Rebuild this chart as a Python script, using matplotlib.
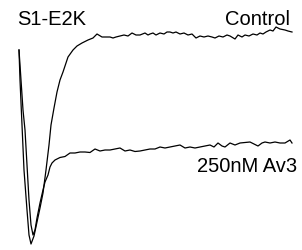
import matplotlib
matplotlib.use("Agg")
import matplotlib.pyplot as plt

# time (ms) and current (nA)
control_t = [0.0, 0.1, 0.3, 0.5, 0.8, 1.0, 1.2, 1.5, 1.8, 2.1, 2.4, 2.7, 3.0, 3.2, 3.5, 3.8, 4.1, 4.4, 4.9, 5.4,
             5.8, 6.3, 6.9, 7.4, 7.8, 8.3, 9.1, 9.4, 9.7, 10.1, 10.5, 10.9, 11.3, 11.7, 12.1, 12.6, 12.9, 13.1,
             13.4, 13.7, 14.1, 14.5, 14.8, 15.1, 15.4, 15.7, 16.1, 16.5, 16.9, 17.3, 17.7, 18.1, 18.5, 18.9,
             19.3, 19.6, 20.0, 20.4, 20.8, 21.1, 21.6, 21.9, 22.3, 22.6, 23.0, 23.4, 23.8, 24.1, 24.4, 24.7,
             25.1, 25.4, 25.7, 26.1, 26.6, 26.9, 27.3]
control_i = [0.0, -0.30, -0.75, -1.20, -1.60, -1.85, -1.94, -1.86, -1.72, -1.58, -1.43, -1.20, -0.95, -0.75,
             -0.58, -0.42, -0.30, -0.22, -0.07, 0.00, 0.04, 0.07, 0.10, 0.12, 0.16, 0.13, 0.13, 0.12, 0.13, 0.14,
             0.15, 0.14, 0.17, 0.15, 0.15, 0.17, 0.15, 0.16, 0.17, 0.15, 0.17, 0.16, 0.18, 0.18, 0.17, 0.18,
             0.16, 0.17, 0.15, 0.16, 0.12, 0.14, 0.13, 0.14, 0.13, 0.12, 0.14, 0.13, 0.15, 0.14, 0.11, 0.15,
             0.13, 0.15, 0.14, 0.16, 0.15, 0.17, 0.16, 0.18, 0.20, 0.19, 0.23, 0.21, 0.20, 0.19, 0.18]

av3_t = [0.0, 0.2, 0.4, 0.6, 0.8, 1.0, 1.2, 1.4, 1.6, 1.8, 2.1, 2.4, 2.6, 2.9, 3.1, 3.3, 3.6, 4.1, 4.6, 5.1,
         5.6, 6.1, 6.6, 7.1, 7.6, 8.1, 8.6, 9.1, 9.6, 10.1, 10.6, 11.1, 11.6, 12.1, 12.6, 13.1, 13.6, 14.1,
         14.6, 15.1, 15.6, 16.1, 16.6, 17.1, 17.6, 18.1, 18.6, 19.1, 19.5, 19.9, 20.3, 20.6, 21.1, 21.6,
         22.1, 22.6, 23.1, 23.5, 23.9, 24.3, 24.6, 25.1, 25.6, 26.1, 26.6, 27.1, 27.3]
av3_i = [0.0, -0.30, -0.60, -0.80, -1.15, -1.50, -1.75, -1.85, -1.80, -1.68, -1.53, -1.40, -1.32, -1.25,
         -1.17, -1.13, -1.10, -1.075, -1.065, -1.03, -1.03, -1.02, -1.02, -1.025, -0.99, -1.01, -1.00, -1.00,
         -0.99, -0.98, -1.01, -1.00, -1.015, -1.01, -1.00, -0.99, -0.99, -0.97, -0.98, -0.97, -0.96, -0.95,
         -0.98, -0.97, -0.98, -0.97, -0.96, -0.95, -0.97, -0.93, -0.96, -0.97, -0.93, -0.95, -0.93, -0.925,
         -0.92, -0.94, -0.96, -0.93, -0.92, -0.93, -0.92, -0.93, -0.93, -0.90, -0.93]

title = "S1-E2K"
label_control = "Control"
label_av3 = "250nM Av3"

plt.rcParams['font.family'] = ['Liberation Sans', 'DejaVu Sans']

fig = plt.figure(figsize=(3.02, 2.50), dpi=100)
ax = fig.add_axes([0, 0, 1, 1])
ax.plot(control_t, control_i, color="black", lw=0.9)
ax.plot(av3_t, av3_i, color="black", lw=0.9)
ax.set_xlim(-1.9, 28.3)
ax.set_ylim(-2.0, 0.5)
ax.axis("off")

ax.text(-0.2, 0.25, title, fontsize=14.5, ha="left", va="baseline")
ax.text(27.1, 0.25, label_control, fontsize=14.5, ha="right", va="baseline")
ax.text(27.8, -1.22, label_av3, fontsize=14.5, ha="right", va="baseline")

fig.savefig("out.png", dpi=100, facecolor="white")
